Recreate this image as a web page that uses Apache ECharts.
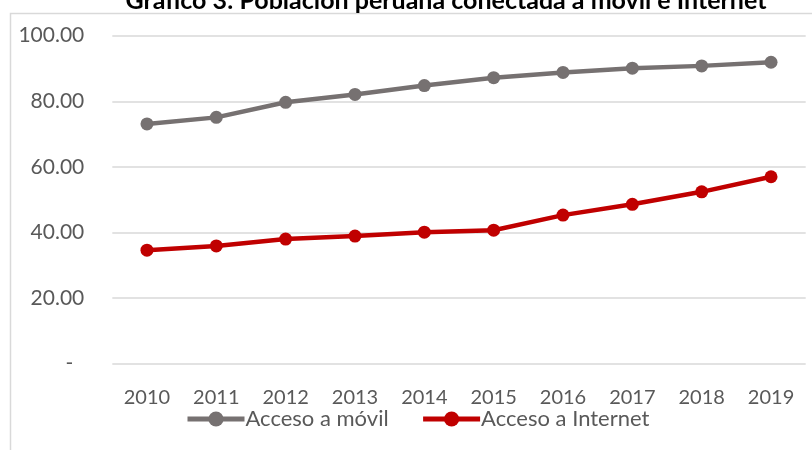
<!DOCTYPE html>
<html>
<head>
<meta charset="utf-8">
<script src="https://cdn.jsdelivr.net/npm/echarts@6/dist/echarts.min.js"></script>
<style>html,body{margin:0;padding:0;background:#fff}#c{width:812px;height:450px}</style>
</head>
<body>
<div id="c"></div>
<script>
var titleText = 'Gráfico 3: Población peruana conectada a móvil e Internet';
var years = ['2010','2011','2012','2013','2014','2015','2016','2017','2018','2019'];
var movil = [73.1, 75.1, 79.7, 82.1, 84.8, 87.2, 88.8, 90.1, 90.8, 91.9];
var internet = [34.6, 35.9, 38.0, 38.9, 40.1, 40.7, 45.3, 48.6, 52.4, 57.0];
var seriesNames = ['Acceso a móvil', 'Acceso a Internet'];

var chart = echarts.init(document.getElementById('c'), null, {renderer: 'canvas'});
var font = 'Lato';
chart.setOption({
  animation: false,
  textStyle: {fontFamily: font},
  graphic: [{
    type: 'rect', left: 8, top: 11, silent: true, z: -1,
    shape: {width: 900, height: 600},
    style: {fill: 'none', stroke: '#d9d9d9', lineWidth: 1.5}
  }],
  title: {
    text: titleText, left: 446, textAlign: 'center', top: -12, padding: 0,
    textStyle: {fontFamily: font, fontWeight: 'bold', fontSize: 25, color: '#000'}
  },
  legend: {
    left: 185, top: 408, padding: 0, itemWidth: 57, itemHeight: 19, itemGap: 32,
    lineStyle: {width: 5},
    textStyle: {fontFamily: font, fontSize: 22, color: '#595959', padding: [0,0,0,-4]},
    data: seriesNames
  },
  grid: {left: 112.3, right: 6.3, top: 35.7, bottom: 86.3, containLabel: false},
  xAxis: {
    type: 'category', data: years, boundaryGap: true,
    axisLine: {show: false}, axisTick: {show: false},
    axisLabel: {fontFamily: font, fontSize: 20, color: '#595959', margin: 24}
  },
  yAxis: {
    type: 'value', min: 0, max: 100, interval: 20,
    axisLine: {show: false}, axisTick: {show: false},
    splitLine: {lineStyle: {color: '#d9d9d9', width: 1.5}},
    axisLabel: {
      fontFamily: font, fontSize: 21, color: '#595959', margin: 28,
      formatter: function (v) { return v === 0 ? '{d|-}' : v.toFixed(2); },
      rich: {d: {fontFamily: font, fontSize: 21, color: '#595959', padding: [0, 11, 0, 0]}}
    }
  },
  series: [
    {name: seriesNames[0], type: 'line', data: movil, symbol: 'circle', symbolSize: 13,
     lineStyle: {color: '#767171', width: 4.5}, itemStyle: {color: '#767171'}},
    {name: seriesNames[1], type: 'line', data: internet, symbol: 'circle', symbolSize: 13,
     lineStyle: {color: '#C00000', width: 4.5}, itemStyle: {color: '#C00000'}}
  ]
});
</script>
</body>
</html>
